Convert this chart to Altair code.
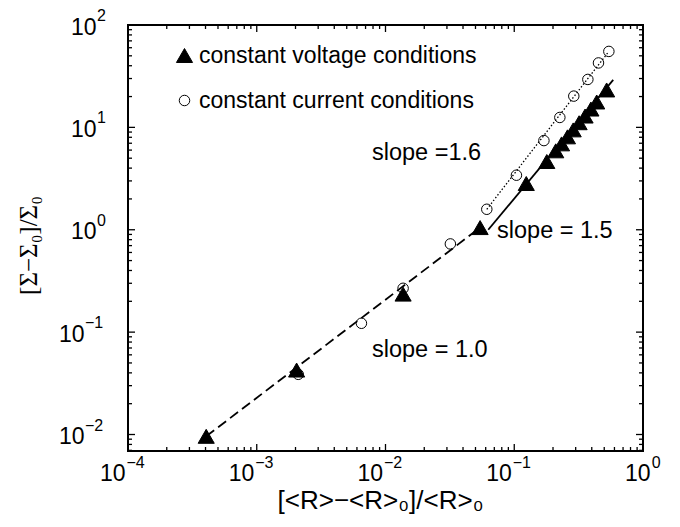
import altair as alt
import pandas as pd

# ---------------- data ----------------
S_V = "constant voltage conditions"
S_C = "constant current conditions"

cv_x = [4.05e-4, 2.04e-3, 0.0137, 0.0543, 0.124, 0.179, 0.210, 0.233, 0.259,
        0.287, 0.319, 0.355, 0.394, 0.437, 0.522]
cv_y = [0.0096, 0.0426, 0.235, 1.05, 2.83, 4.64, 5.90, 6.90, 8.08,
        9.45, 11.1, 12.9, 15.1, 17.7, 23.2]

cc_x = [2.10e-3, 6.5e-3, 0.0137, 0.0319, 0.0612, 0.104, 0.170, 0.226,
        0.290, 0.373, 0.451, 0.543]
cc_y = [0.0387, 0.122, 0.268, 0.727, 1.585, 3.41, 7.43, 12.5,
        20.2, 29.4, 42.6, 55.2]

# fit lines (end points)
dash_x = [4.05e-4, 0.0543]
dash_y = [0.0096, 1.05]
solid_x = [0.0628, 0.587]
solid_y = [1.0, 29.1]
dot_x = [0.0612, 0.543]
dot_y = [1.585, 55.2]

# annotations
ann_x = [7.85e-3, 0.0735, 7.85e-3]
ann_y = [5.64, 0.977, 0.0675]
ann_text = ["slope =1.6", "slope = 1.5", "slope = 1.0"]

# axes
major_x = [1e-4, 1e-3, 1e-2, 1e-1, 1.0]
exp_x = ["\u22124", "\u22123", "\u22122", "\u22121", "0"]
major_y = [1e-2, 1e-1, 1.0, 10.0, 100.0]
exp_y = ["\u22122", "\u22121", "0", "1", "2"]
mult = [2, 3, 4, 5, 6, 7, 8, 9]
minor_x = [m * d for d in [1e-4, 1e-3, 1e-2, 1e-1] for m in mult]
minor_y = [7e-3, 8e-3, 9e-3] + [m * d for d in [1e-2, 1e-1, 1.0, 10.0] for m in mult]

# ---------------- chart ----------------
W, H = 515, 426
FONT = "Liberation Sans"
xs = alt.Scale(type="log", domain=[1e-4, 1.0], nice=False)
ys = alt.Scale(type="log", domain=[0.0069, 100.0], nice=False)

x_axis = alt.Axis(
    values=major_x, labelExpr="'10'", title="[<R>\u2212<R>\u2080]/<R>\u2080",
    domain=False, ticks=False, grid=False,
    labelFont=FONT, labelFontSize=23, labelColor="black",
    labelAlign="right", labelBaseline="middle", labelPadding=22,
    labelOffset={"condition": {"test": "datum.value < 0.5", "value": -3}, "value": 7},
    labelFlush=False, labelOverlap=False,
    titleFont=FONT, titleFontSize=26, titleFontWeight="normal", titleColor="black",
    titleX=252, titleY=57, titleBaseline="alphabetic", titleAlign="center",
)
y_axis = alt.Axis(
    values=major_y, labelExpr="'10'", title="[\u03a3\u2212\u03a3\u2080]/\u03a3\u2080",
    domain=False, ticks=False, grid=False,
    labelFont=FONT, labelFontSize=23, labelColor="black",
    labelAlign="right", labelBaseline="middle", labelOffset=2,
    labelPadding={"condition": {"test": "datum.value < 0.5", "value": 44}, "value": 32},
    labelFlush=False, labelOverlap=False,
    titleFont="Liberation Serif", titleFontSize=25, titleFontWeight="normal",
    titleColor="black", titleX=-100, titleY=220, titleAngle=270,
    titleAlign="center", titleBaseline="middle",
)


def X(field):
    return alt.X(field, type="quantitative", scale=xs, axis=x_axis)


def Y(field):
    return alt.Y(field, type="quantitative", scale=ys, axis=y_axis)


pts = pd.DataFrame({
    "x": cv_x + cc_x,
    "y": cv_y + cc_y,
    "series": [S_V] * len(cv_x) + [S_C] * len(cc_x),
})
dom = [S_V, S_C]
leg = alt.Legend(
    orient="none", legendX=45, legendY=19,
    labelFont=FONT, labelFontSize=23, labelColor="black", labelLimit=500,
    labelOffset=3, rowPadding=21, padding=0,
    symbolStrokeWidth=1, symbolOpacity=1,
)


def line_layer(xv, yv, dash, sw):
    df = pd.DataFrame({"x": xv, "y": yv})
    if dash:
        m = alt.Chart(df).mark_line(color="black", strokeWidth=sw, strokeDash=dash)
    else:
        m = alt.Chart(df).mark_line(color="black", strokeWidth=sw)
    return m.encode(x=X("x"), y=Y("y"))


lines = [
    line_layer(dash_x, dash_y, [10, 5], 1.8),
    line_layer(solid_x, solid_y, None, 1.8),
    line_layer(dot_x, dot_y, [1.5, 2], 1.3),
]

points = alt.Chart(pts).mark_point(filled=True, strokeWidth=1, opacity=1).encode(
    x=X("x"),
    y=Y("y"),
    shape=alt.Shape("series:N", scale=alt.Scale(domain=dom, range=["triangle-up", "circle"]),
                    legend=leg, title=None),
    fill=alt.Fill("series:N", scale=alt.Scale(domain=dom, range=["black", "transparent"]),
                  legend=leg, title=None),
    stroke=alt.Stroke("series:N", scale=alt.Scale(domain=dom, range=["black", "black"]),
                      legend=leg, title=None),
    size=alt.Size("series:N", scale=alt.Scale(domain=dom, range=[260, 110]),
                  legend=leg, title=None),
)


def xticks(vals, L):
    df = pd.DataFrame({"v": vals})
    base = alt.Chart(df).mark_rule(color="black", strokeWidth=1.3)
    return [base.encode(x=X("v"), y=alt.value(H), y2=alt.value(H - L)),
            base.encode(x=X("v"), y=alt.value(0), y2=alt.value(L))]


def yticks(vals, L):
    df = pd.DataFrame({"v": vals})
    base = alt.Chart(df).mark_rule(color="black", strokeWidth=1.3)
    return [base.encode(y=Y("v"), x=alt.value(0), x2=alt.value(L)),
            base.encode(y=Y("v"), x=alt.value(W), x2=alt.value(W - L))]


ticks = xticks(major_x, 7) + xticks(minor_x, 4) + yticks(major_y, 7) + yticks(minor_y, 4)

ann = alt.Chart(pd.DataFrame({"x": ann_x, "y": ann_y, "t": ann_text})).mark_text(
    align="left", baseline="middle", font=FONT, fontSize=23.5, color="black"
).encode(x=X("x"), y=Y("y"), text="t:N")

exdf = pd.DataFrame({"v": major_x, "t": exp_x})
xexp_neg = alt.Chart(exdf.iloc[:-1]).mark_text(
    align="left", baseline="middle", font=FONT, fontSize=16, color="black", dx=-1.5
).encode(x=X("v"), y=alt.value(H + 11.5), text="t:N")
xexp_zero = alt.Chart(exdf.iloc[-1:]).mark_text(
    align="left", baseline="middle", font=FONT, fontSize=16, color="black", dx=8.7
).encode(x=X("v"), y=alt.value(H + 11.5), text="t:N")

eydf = pd.DataFrame({"v": major_y, "t": exp_y})
yexp_neg = alt.Chart(eydf.iloc[:2]).mark_text(
    align="left", baseline="middle", font=FONT, fontSize=16, color="black", dy=-9
).encode(x=alt.value(-43), y=Y("v"), text="t:N")
yexp_pos = alt.Chart(eydf.iloc[2:]).mark_text(
    align="left", baseline="middle", font=FONT, fontSize=16, color="black", dy=-9
).encode(x=alt.value(-31), y=Y("v"), text="t:N")

chart = alt.layer(*lines, points, *ticks, ann, xexp_neg, xexp_zero, yexp_neg, yexp_pos).properties(
    width=W, height=H,
    padding={"left": 120, "top": 17, "right": 25, "bottom": 68},
    autosize=alt.AutoSizeParams(type="none"),
    background="white",
).configure_view(stroke="black", strokeWidth=2)

chart.save("out.html", embed_options={"renderer": "svg", "actions": False})
